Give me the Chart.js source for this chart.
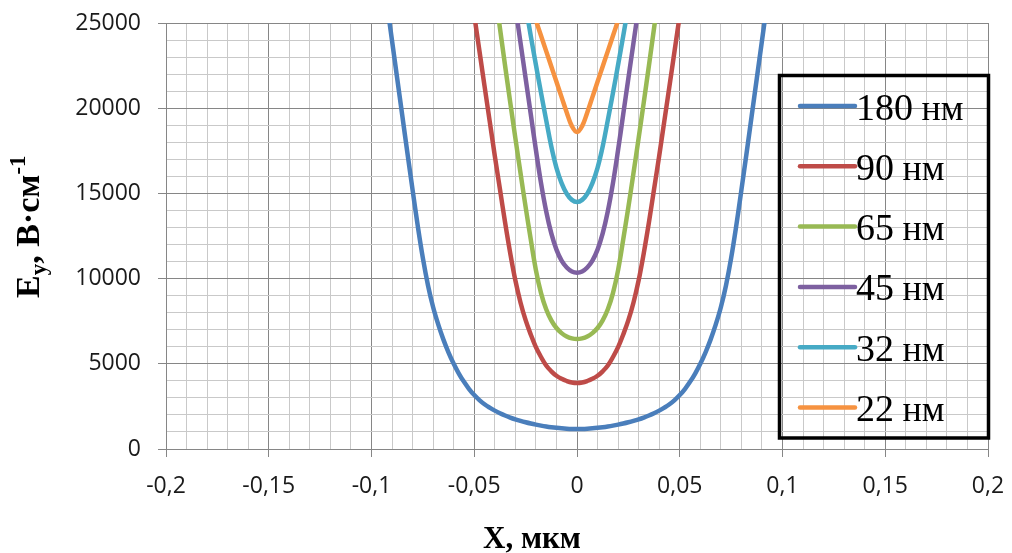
<!DOCTYPE html>
<html>
<head>
<meta charset="utf-8">
<script src="https://cdn.jsdelivr.net/npm/chart.js@4/dist/chart.umd.min.js"></script>
<style>
  html, body { margin: 0; padding: 0; background: #ffffff; }
  #wrap { width: 1012px; height: 553px; position: relative; }
</style>
</head>
<body>
<div id="wrap"><canvas id="chart" width="1012" height="553"></canvas></div>
<script>
// Coordinate X, мкм (sampling positions, step 0.0025)
const xPositions = [
  -0.1, -0.0975, -0.095, -0.0925, -0.09, -0.0875, -0.085, -0.0825, -0.08, -0.0775,
  -0.075, -0.0725, -0.07, -0.0675, -0.065, -0.0625, -0.06, -0.0575, -0.055, -0.0525,
  -0.05, -0.0475, -0.045, -0.0425, -0.04, -0.0375, -0.035, -0.0325, -0.03, -0.0275,
  -0.025, -0.0225, -0.02, -0.0175, -0.015, -0.0125, -0.01, -0.0075, -0.005, -0.0025,
  0,
  0.0025, 0.005, 0.0075, 0.01, 0.0125, 0.015, 0.0175, 0.02, 0.0225, 0.025,
  0.0275, 0.03, 0.0325, 0.035, 0.0375, 0.04, 0.0425, 0.045, 0.0475, 0.05,
  0.0525, 0.055, 0.0575, 0.06, 0.0625, 0.065, 0.0675, 0.07, 0.0725, 0.075,
  0.0775, 0.08, 0.0825, 0.085, 0.0875, 0.09, 0.0925, 0.095, 0.0975, 0.1
];

// Field strength Ey, В·см-1, for each technology node
const ey180 = [
  null, null, 28350, 26150, 23950, 21750, 19550, 17350, 15200, 13100,
  11200, 9600, 8320, 7300, 6420, 5660, 5000, 4430, 3940, 3520,
  3165, 2870, 2625, 2425, 2251, 2099, 1965, 1847, 1743, 1651,
  1569, 1496, 1431, 1373, 1322, 1278, 1241, 1211, 1189, 1175,
  1170,
  1175, 1189, 1211, 1241, 1278, 1322, 1373, 1431, 1496, 1569,
  1651, 1743, 1847, 1965, 2099, 2251, 2425, 2625, 2870, 3165,
  3520, 3940, 4430, 5000, 5660, 6420, 7300, 8320, 9600, 11200,
  13100, 15200, 17350, 19550, 21750, 23950, 26150, 28350, null, null
];
const ey90 = [
  null, null, null, null, null, null, null, null, null, null,
  null, null, null, null, null, null, null, null, 29600, 27500,
  25450, 23380, 21300, 19250, 17200, 15250, 13300, 11500, 9900, 8600,
  7560, 6720, 5980, 5400, 4900, 4560, 4300, 4120, 3990, 3900,
  3870,
  3900, 3990, 4120, 4300, 4560, 4900, 5400, 5980, 6720, 7560,
  8600, 9900, 11500, 13300, 15250, 17200, 19250, 21300, 23380, 25450,
  27500, 29600, null, null, null, null, null, null, null, null,
  null, null, null, null, null, null, null, null, null, null
];
const ey65 = [
  null, null, null, null, null, null, null, null, null, null,
  null, null, null, null, null, null, null, null, null, null,
  null, null, null, 29100, 26900, 24700, 22500, 20350, 18250, 16200,
  14200, 12300, 10500, 9150, 8200, 7550, 7100, 6800, 6600, 6490,
  6450,
  6490, 6600, 6800, 7100, 7550, 8200, 9150, 10500, 12300, 14200,
  16200, 18250, 20350, 22500, 24700, 26900, 29100, null, null, null,
  null, null, null, null, null, null, null, null, null, null,
  null, null, null, null, null, null, null, null, null, null
];
const ey45 = [
  null, null, null, null, null, null, null, null, null, null,
  null, null, null, null, null, null, null, null, null, null,
  null, null, null, null, null, null, null, 28050, 25950, 23850,
  21750, 19650, 17550, 15600, 13950, 12650, 11700, 11050, 10650, 10420,
  10350,
  10420, 10650, 11050, 11700, 12650, 13950, 15600, 17550, 19650, 21750,
  23850, 25950, 28050, null, null, null, null, null, null, null,
  null, null, null, null, null, null, null, null, null, null,
  null, null, null, null, null, null, null, null, null, null
];
const ey32 = [
  null, null, null, null, null, null, null, null, null, null,
  null, null, null, null, null, null, null, null, null, null,
  null, null, null, null, null, null, null, null, null, 27750,
  26000, 24250, 22550, 20900, 19300, 17750, 16500, 15600, 14980, 14620,
  14500,
  14620, 14980, 15600, 16500, 17750, 19300, 20900, 22550, 24250, 26000,
  27750, null, null, null, null, null, null, null, null, null,
  null, null, null, null, null, null, null, null, null, null,
  null, null, null, null, null, null, null, null, null, null
];
const ey22 = [
  null, null, null, null, null, null, null, null, null, null,
  null, null, null, null, null, null, null, null, null, null,
  null, null, null, null, null, null, null, null, null, null,
  26950, 26050, 25150, 24250, 23350, 22450, 21550, 20650, 19750, 18950,
  18600,
  18950, 19750, 20650, 21550, 22450, 23350, 24250, 25150, 26050, 26950,
  null, null, null, null, null, null, null, null, null, null,
  null, null, null, null, null, null, null, null, null, null,
  null, null, null, null, null, null, null, null, null, null
];

const seriesLabels = ['180 нм', '90 нм', '65 нм', '45 нм', '32 нм', '22 нм'];
const seriesValues = [ey180, ey90, ey65, ey45, ey32, ey22];
const seriesColors = ['#4A7EBB', '#BE4B48', '#98B954', '#7D60A0', '#46AAC5', '#F69240'];

// Labelled (major) ticks
const xMajorTicks = [-0.2, -0.15, -0.1, -0.05, 0, 0.05, 0.1, 0.15, 0.2];
const xTickLabels = ['-0,2', '-0,15', '-0,1', '-0,05', '0', '0,05', '0,1', '0,15', '0,2'];
const yMajorTicks = [0, 5000, 10000, 15000, 20000, 25000];
const yTickLabels = ['0', '5000', '10000', '15000', '20000', '25000'];

const MAJOR_GRID = '#868686';
const MINOR_GRID = '#c9c9c9';
const SERIF = '"Liberation Serif", "Times New Roman", serif';
const SANS = '"Open Sans", "DejaVu Sans", sans-serif';

function majorIndex(list, v) {
  return list.findIndex(m => Math.abs(m - v) < 1e-9);
}

const datasets = seriesValues.map((vals, i) => ({
  label: seriesLabels[i],
  data: xPositions.map((x, j) => ({ x: x, y: vals[j] })),
  borderColor: seriesColors[i],
  backgroundColor: seriesColors[i],
  borderWidth: 4.5,
  pointRadius: 0,
  fill: false,
  spanGaps: false,
  tension: 0.4
}));

// Boxed legend inside the plot, drawn over the grid
const boxedLegend = {
  id: 'boxedLegend',
  afterDatasetsDraw(chart) {
    const ctx = chart.ctx;
    ctx.save();
    ctx.strokeStyle = '#000000';
    ctx.lineWidth = 3.5;
    ctx.strokeRect(779.5, 75.5, 209, 362.5);
    const rowTop = 106;
    const rowStep = 60.3;
    chart.data.datasets.forEach((ds, i) => {
      const y = rowTop + i * rowStep;
      ctx.strokeStyle = ds.borderColor;
      ctx.lineWidth = 4.5;
      ctx.lineCap = 'round';
      ctx.beginPath();
      ctx.moveTo(800, y);
      ctx.lineTo(855, y);
      ctx.stroke();
      const parts = ds.label.split(' ');
      ctx.fillStyle = '#000000';
      ctx.textBaseline = 'alphabetic';
      ctx.textAlign = 'left';
      ctx.font = '38px ' + SERIF;
      ctx.fillText(parts[0], 856, y + 13.5);
      const w = ctx.measureText(parts[0] + ' ').width;
      ctx.font = '36px ' + SERIF;
      ctx.fillText(parts[1], 856 + w - 1, y + 13.5);
    });
    ctx.restore();
  }
};

// Axis titles with sub/superscripts
const axisTitles = {
  id: 'axisTitles',
  afterDraw(chart) {
    const ctx = chart.ctx;
    ctx.save();
    ctx.fillStyle = '#000000';
    ctx.textBaseline = 'alphabetic';
    ctx.textAlign = 'center';
    ctx.font = 'bold 31px ' + SERIF;
    ctx.fillText('X, мкм', 532, 548);

    ctx.translate(39, 298);
    ctx.rotate(-Math.PI / 2);
    ctx.textAlign = 'left';
    let x = 0;
    const big = 'bold 34px ' + SERIF;
    const small = 'bold 23px ' + SERIF;
    ctx.font = big;
    ctx.fillText('E', x, 0);
    x += ctx.measureText('E').width;
    ctx.font = small;
    ctx.fillText('y', x, 7);
    x += ctx.measureText('y').width;
    ctx.font = big;
    ctx.fillText(', В·см', x, 0);
    x += ctx.measureText(', В·см').width;
    ctx.font = small;
    ctx.fillText('-1', x, -14);
    ctx.restore();
  }
};

new Chart(document.getElementById('chart'), {
  type: 'line',
  data: { datasets: datasets },
  plugins: [boxedLegend, axisTitles],
  options: {
    responsive: false,
    animation: false,
    layout: { padding: { left: 0, right: 24, top: 23, bottom: 0 } },
    plugins: {
      legend: { display: false },
      tooltip: { enabled: false },
      title: { display: false }
    },
    scales: {
      x: {
        type: 'linear',
        min: -0.2,
        max: 0.2,
        afterFit(scale) {
          scale.height = 104;
          scale.paddingLeft = 0;
          scale.paddingRight = 0;
        },
        ticks: {
          stepSize: 0.01,
          autoSkip: false,
          minRotation: 0,
          maxRotation: 0,
          padding: 16,
          color: '#1a1a1a',
          font: { family: SANS, size: 23 },
          callback(value) {
            const i = majorIndex(xMajorTicks, value);
            return i >= 0 ? xTickLabels[i] : '';
          }
        },
        grid: {
          lineWidth: 1,
          tickLength: 8,
          color(ctx) { return ctx.tick && majorIndex(xMajorTicks, ctx.tick.value) >= 0 ? MAJOR_GRID : MINOR_GRID; },
          tickColor(ctx) { return ctx.tick && majorIndex(xMajorTicks, ctx.tick.value) >= 0 ? MAJOR_GRID : 'rgba(0,0,0,0)'; }
        },
        border: { color: MAJOR_GRID, width: 1 }
      },
      y: {
        type: 'linear',
        min: 0,
        max: 25000,
        afterFit(scale) {
          scale.width = 166;
          scale.paddingTop = 0;
          scale.paddingBottom = 0;
        },
        ticks: {
          stepSize: 1000,
          autoSkip: false,
          padding: 17,
          color: '#1a1a1a',
          font: { family: SANS, size: 23 },
          callback(value) {
            const i = majorIndex(yMajorTicks, value);
            return i >= 0 ? yTickLabels[i] : '';
          }
        },
        grid: {
          lineWidth: 1,
          tickLength: 8,
          color(ctx) { return ctx.tick && majorIndex(yMajorTicks, ctx.tick.value) >= 0 ? MAJOR_GRID : MINOR_GRID; },
          tickColor(ctx) { return ctx.tick && majorIndex(yMajorTicks, ctx.tick.value) >= 0 ? MAJOR_GRID : 'rgba(0,0,0,0)'; }
        },
        border: { color: MAJOR_GRID, width: 1 }
      }
    }
  }
});
</script>
</body>
</html>
